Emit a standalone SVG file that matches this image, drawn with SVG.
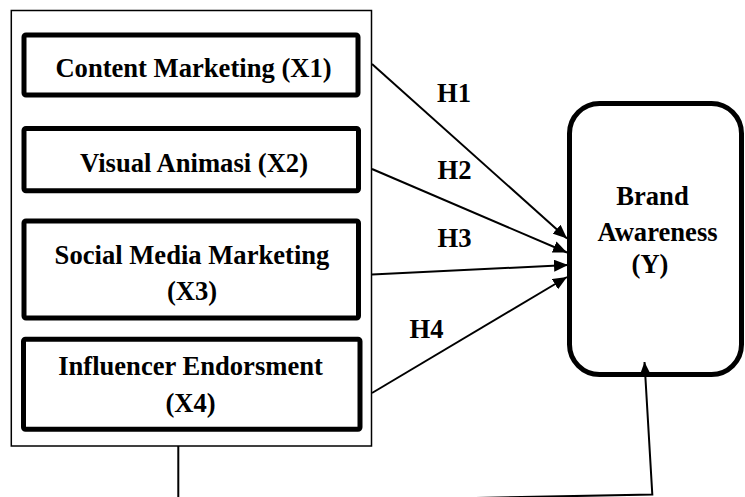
<svg xmlns="http://www.w3.org/2000/svg" width="745" height="497" viewBox="0 0 745 497">
<style>
.t{font-family:"Liberation Serif","Times New Roman",serif;font-weight:bold;font-size:26.6px;fill:#000;text-anchor:middle}
.box{fill:#fff;stroke:#000;stroke-width:5}
.ln{fill:none;stroke:#000;stroke-width:2}
</style>
<defs>
<marker id="ah" markerUnits="userSpaceOnUse" markerWidth="14" markerHeight="12" viewBox="0 0 14 12" refX="14" refY="6" orient="auto">
<path d="M0,0 L14,6 L0,12 Z" fill="#000"/>
</marker>
</defs>
<g id="group-x">
<rect x="11.3" y="10.5" width="360.2" height="435.5" fill="#fff" stroke="#000" stroke-width="1.5"/>
</g>
<g id="x1">
<rect class="box" x="24" y="35" width="334" height="60" rx="2"/>
<text class="t" x="193.5" y="77">Content Marketing (X1)</text>
</g>
<g id="x2">
<rect class="box" x="24" y="128.5" width="334.5" height="62.3" rx="2"/>
<text class="t" x="194" y="171.5">Visual Animasi (X2)</text>
</g>
<g id="x3">
<rect class="box" x="24" y="221" width="334.5" height="97" rx="2"/>
<text class="t" x="192" y="264">Social Media Marketing</text>
<text class="t" x="192" y="300">(X3)</text>
</g>
<g id="x4">
<rect class="box" x="23.5" y="339.2" width="336.5" height="90" rx="2"/>
<text class="t" x="190.5" y="375">Influencer Endorsment</text>
<text class="t" x="190.5" y="411.5">(X4)</text>
</g>
<g id="y">
<rect class="box" x="569.5" y="103.5" width="172" height="271" rx="30"/>
<text class="t" x="652.5" y="205">Brand</text>
<text class="t" x="657.5" y="240.5">Awareness</text>
<text class="t" x="650" y="273">(Y)</text>
</g>
<g id="connectors">
<line class="ln" x1="372" y1="64" x2="567" y2="238.5" marker-end="url(#ah)"/>
<line class="ln" x1="372" y1="169" x2="567" y2="252.5" marker-end="url(#ah)"/>
<line class="ln" x1="372" y1="274.5" x2="568" y2="265" marker-end="url(#ah)"/>
<line class="ln" x1="372" y1="393" x2="567" y2="277" marker-end="url(#ah)"/>
<path class="ln" d="M178.3,446 V499.5 L400,499.5 L652.3,494.5 L644.5,362" marker-end="url(#ah)"/>
<text class="t" x="454" y="101.5">H1</text>
<text class="t" x="454.5" y="179">H2</text>
<text class="t" x="454.5" y="247">H3</text>
<text class="t" x="426.5" y="338">H4</text>
</g>
</svg>
